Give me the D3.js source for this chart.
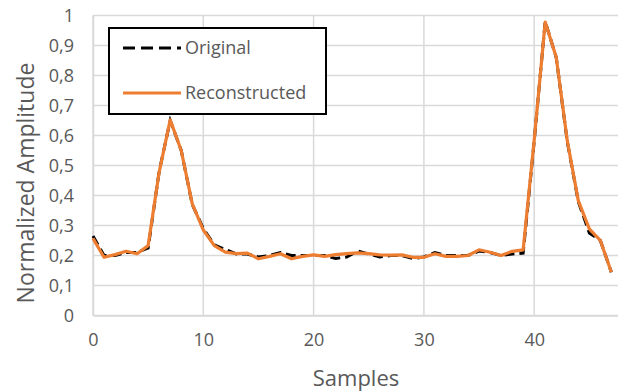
<!DOCTYPE html>
<html><head><meta charset="utf-8">
<script src="https://cdn.jsdelivr.net/npm/d3@7"></script>
<style>body{margin:0;background:#fff}svg{display:block}</style>
</head><body>
<svg id="c" width="618" height="392"></svg>
<script>
const samples = d3.range(0, 48);
const original = [0.265,0.2,0.2,0.21,0.21,0.225,0.48,0.65,0.55,0.37,0.29,0.235,0.22,0.205,0.205,0.195,0.2,0.21,0.2,0.2,0.2,0.2,0.19,0.195,0.215,0.205,0.195,0.2,0.2,0.19,0.195,0.21,0.2,0.2,0.2,0.215,0.21,0.2,0.205,0.208,0.58,0.98,0.86,0.58,0.38,0.275,0.25,0.144];
const reconstructed = [0.257,0.194,0.203,0.214,0.206,0.233,0.478,0.652,0.55,0.372,0.285,0.233,0.211,0.206,0.208,0.189,0.197,0.206,0.189,0.197,0.202,0.197,0.203,0.206,0.209,0.206,0.202,0.201,0.202,0.194,0.194,0.206,0.197,0.197,0.2,0.219,0.211,0.2,0.214,0.219,0.584,0.978,0.861,0.583,0.383,0.289,0.25,0.144];
const xTicks = [0,10,20,30,40];
const yTicks = [0,0.1,0.2,0.3,0.4,0.5,0.6,0.7,0.8,0.9,1];
const seriesNames = ["Original","Reconstructed"];

const svg = d3.select("#c");
const x = d3.scaleLinear().domain([0,47.6]).range([93,618]);
const y = d3.scaleLinear().domain([0,1]).range([315.5,15.5]);
const grid = "#d9d9d9", txt = "#595959";
const font = "'Open Sans', sans-serif";

// grid
svg.append("g").selectAll("line").data(yTicks).join("line")
  .attr("x1",x(0)).attr("x2",618).attr("y1",d=>y(d)).attr("y2",d=>y(d))
  .attr("stroke",grid).attr("stroke-width",1.5);
svg.append("g").selectAll("line").data(xTicks).join("line")
  .attr("x1",d=>x(d)).attr("x2",d=>x(d)).attr("y1",y(0)).attr("y2",y(1))
  .attr("stroke",grid).attr("stroke-width",1.5);

// axes
const fmt = d => d===0?"0":d===1?"1":String(d3.format(".1f")(d)).replace(".",",");
const ya = svg.append("g").attr("transform",`translate(${x(0)},0)`)
  .call(d3.axisLeft(y).tickValues(yTicks).tickSize(0).tickPadding(19).tickFormat(fmt));
const xa = svg.append("g").attr("transform",`translate(0,${y(0)})`)
  .call(d3.axisBottom(x).tickValues(xTicks).tickSize(0).tickPadding(18).tickFormat(d3.format("d")));
[ya,xa].forEach(a=>{
  a.select(".domain").attr("stroke",grid).attr("stroke-width",1.5);
  a.selectAll("text").attr("fill",txt).style("font-family",font).style("font-size","18px");
});

// titles
svg.append("text").attr("x",356).attr("y",386).attr("text-anchor","middle")
  .attr("fill",txt).style("font-family",font).style("font-size","22px").text("Samples");
svg.append("text").attr("transform","translate(34,183) rotate(-90)").attr("text-anchor","middle")
  .attr("fill",txt).style("font-family",font).style("font-size","23px").text("Normalized Amplitude");

// lines
const line = d3.line().x((d,i)=>x(samples[i])).y(d=>y(d));
svg.append("path").datum(original).attr("d",line).attr("fill","none")
  .attr("stroke","#000").attr("stroke-width",3).attr("stroke-dasharray","10,5");
svg.append("path").datum(reconstructed).attr("d",line).attr("fill","none")
  .attr("stroke","#ED7D31").attr("stroke-width",3.2).attr("stroke-linejoin","round");

// legend
const lg = svg.append("g");
lg.append("rect").attr("x",109).attr("y",28).attr("width",217).attr("height",86)
  .attr("fill","#fff").attr("stroke","#000").attr("stroke-width",2);
const items = [{n:seriesNames[0],c:"#000",d:"12,6",yy:48},{n:seriesNames[1],c:"#ED7D31",d:null,yy:93}];
items.forEach(it=>{
  lg.append("line").attr("x1",123).attr("x2",181).attr("y1",it.yy).attr("y2",it.yy)
    .attr("stroke",it.c).attr("stroke-width",3).attr("stroke-dasharray",it.d);
  lg.append("text").attr("x",185).attr("y",it.yy+6).attr("fill",txt)
    .style("font-family",font).style("font-size","18px").text(it.n);
});
</script>
</body></html>
